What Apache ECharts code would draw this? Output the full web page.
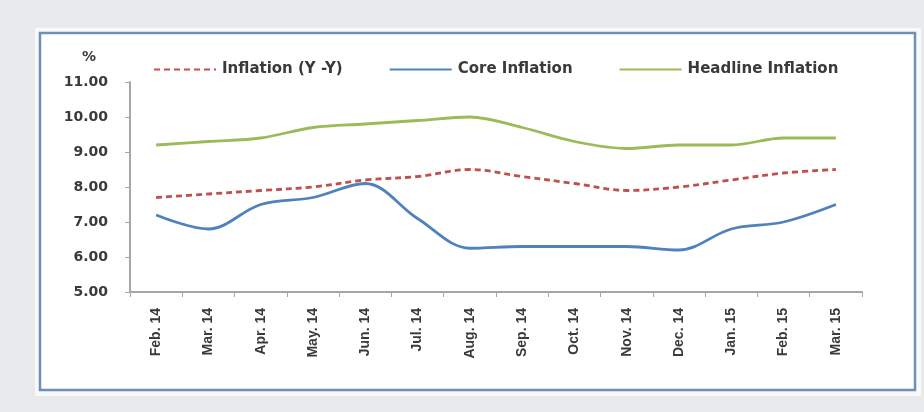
<!DOCTYPE html>
<html><head><meta charset="utf-8">
<script src="https://cdn.jsdelivr.net/npm/echarts@6/dist/echarts.min.js"></script>
<style>html,body{margin:0;padding:0;background:#e8eaec;}#c{width:924px;height:412px;}</style>
</head><body><div id="c"></div>
<script>
const categories = ['Feb. 14','Mar. 14','Apr. 14','May. 14','Jun. 14','Jul. 14','Aug. 14','Sep. 14','Oct. 14','Nov. 14','Dec. 14','Jan. 15','Feb. 15','Mar. 15'];
const inflationYY = [7.7, 7.8, 7.9, 8.0, 8.2, 8.3, 8.5, 8.3, 8.1, 7.9, 8.0, 8.2, 8.4, 8.5];
const coreInflation = [7.2, 6.8, 7.5, 7.7, 8.1, 7.1, 6.25, 6.3, 6.3, 6.3, 6.2, 6.8, 7.0, 7.5];
const headlineInflation = [9.2, 9.3, 9.4, 9.7, 9.8, 9.9, 10.0, 9.7, 9.3, 9.1, 9.2, 9.2, 9.4, 9.4];
const yTicks = [5, 6, 7, 8, 9, 10, 11];

const chart = echarts.init(document.getElementById('c'), null, {renderer:'canvas'});
const txt = '#3a3a3a';
chart.setOption({
  backgroundColor: '#e8eaec',
  animation: false,
  graphic: [
    {type:'rect', shape:{x:35, y:28, width:886, height:368}, style:{fill:'#f7f9fb'}, z:-10, silent:true},
    {type:'rect', shape:{x:40, y:33, width:875, height:357}, style:{fill:'#ffffff', stroke:'#6f8fb8', lineWidth:2.5}, z:-9, silent:true},
    {type:'text', left:82, top:50, style:{text:'%', font:'bold 14px "DejaVu Sans"', fill:txt}}
  ],
  legend: {
    top: 57, left: 148, itemGap: 46, itemWidth: 62, itemHeight: 12,
    itemStyle: {opacity: 0},
    textStyle: {fontFamily:'"DejaVu Sans"', fontWeight:'bold', fontSize:15, color:txt, padding:[0,0,0,1]},
    data: ['Inflation (Y -Y)', 'Core Inflation', 'Headline Inflation']
  },
  grid: {left:130, top:82, right:62, bottom:120, containLabel:false},
  xAxis: {
    type:'category', data:categories, boundaryGap:true,
    axisLine:{lineStyle:{color:'#a6a6a6', width:2}},
    axisTick:{show:true, length:5, lineStyle:{color:'#a6a6a6'}},
    axisLabel:{rotate:90, margin:16, color:txt, fontFamily:'"Liberation Sans Narrow","Liberation Sans"', fontWeight:'bold', fontSize:14}
  },
  yAxis: {
    type:'value', min:yTicks[0], max:yTicks[yTicks.length-1], interval:1,
    splitLine:{show:false},
    axisLine:{show:true, lineStyle:{color:'#a6a6a6', width:2}},
    axisTick:{show:true, length:5, lineStyle:{color:'#a6a6a6'}},
    axisLabel:{margin:22, color:txt, fontFamily:'"DejaVu Sans"', fontWeight:'bold', fontSize:14, formatter:v=>v.toFixed(2)}
  },
  series: [
    {name:'Inflation (Y -Y)', type:'line', data:inflationYY, smooth:0.35, symbol:'none', lineStyle:{color:'#c0504d', width:2.8, type:[6,4]}, itemStyle:{color:'#c0504d'}},
    {name:'Core Inflation', type:'line', data:coreInflation, smooth:0.35, symbol:'none', lineStyle:{color:'#4f81bd', width:2.8}, itemStyle:{color:'#4f81bd'}},
    {name:'Headline Inflation', type:'line', data:headlineInflation, smooth:0.35, symbol:'none', lineStyle:{color:'#9bbb59', width:2.8}, itemStyle:{color:'#9bbb59'}}
  ]
});
</script></body></html>
